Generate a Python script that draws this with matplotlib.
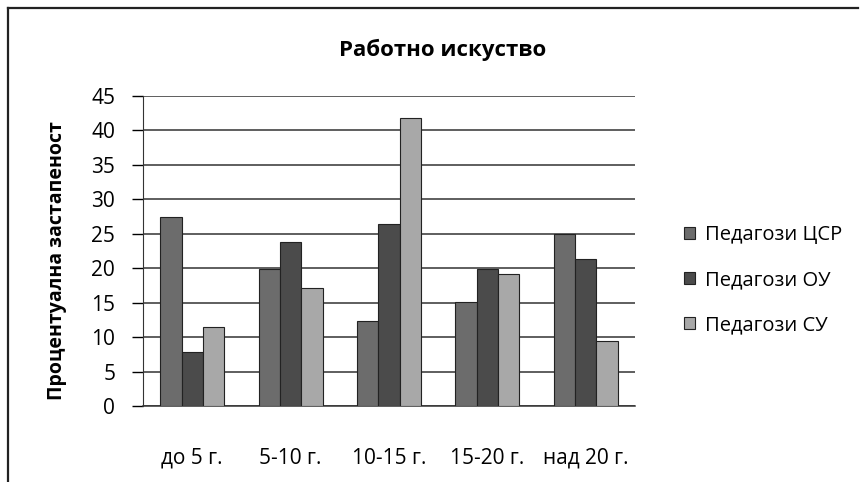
import matplotlib
matplotlib.use("Agg")
import matplotlib.pyplot as plt
import numpy as np
from matplotlib.lines import Line2D

plt.rcParams['font.family'] = ['Open Sans', 'Noto Sans', 'DejaVu Sans']

categories = ["до 5 г.", "5-10 г.", "10-15 г.", "15-20 г.", "над 20 г."]
series_names = ["Педагози ЦСР", "Педагози ОУ", "Педагози СУ"]
cfr = [27.4, 19.9, 12.4, 15.1, 25.0]
ou = [7.8, 23.8, 26.4, 19.9, 21.3]
su = [11.5, 17.1, 41.8, 19.1, 9.4]
colors = ["#6c6c6c", "#4b4b4b", "#a8a8a8"]

fig = plt.figure(figsize=(8.63, 4.82), dpi=100)
ax = fig.add_axes([143/863, 1 - 406/482, 492/863, 310/482])

x = np.arange(len(categories))
w = 0.217
for i, (vals, name) in enumerate(zip([cfr, ou, su], series_names)):
    ax.bar(x + (i - 1) * w, vals, width=w, color=colors[i], edgecolor="#222222",
           linewidth=0.8, label=name, zorder=3)

ax.set_xlim(-0.5, len(categories) - 0.5)
ax.set_ylim(0, 45)
ax.set_yticks(range(0, 46, 5))
ax.set_xticks(x)
ax.set_xticklabels(categories, fontsize=15)
ax.tick_params(axis="y", labelsize=15, direction="out", length=8, width=1, pad=12)
ax.tick_params(axis="x", length=0, pad=30)
ax.yaxis.grid(True, color="#333333", linewidth=1.1, zorder=0)
for s in ["top", "right"]:
    ax.spines[s].set_visible(False)
ax.spines["left"].set_color("#333333")
ax.spines["bottom"].set_color("#333333")
ax.spines["bottom"].set_linewidth(1.1)

ax.set_ylabel("Процентуална застапеност", fontsize=14, fontweight="bold")
ax.yaxis.set_label_coords(-0.155, 0.47)
fig.text(443/863, 1 - 50/482, "Работно искуство", fontsize=16, fontweight="bold",
         ha="center", va="center")

fig.legend(loc="center left", bbox_to_anchor=(666/863, 1 - 280/482), frameon=False,
           fontsize=14.5, handlelength=0.55, handleheight=0.55, handletextpad=0.5,
           labelspacing=1.25)

# chart frame (only left and top edges show in the scan)
fig.add_artist(Line2D([8/863, 8/863], [0, 1 - 8/482], transform=fig.transFigure,
                      color="#222222", linewidth=1.6))
fig.add_artist(Line2D([8/863, 858/863], [1 - 8/482, 1 - 8/482], transform=fig.transFigure,
                      color="#222222", linewidth=1.6))

fig.savefig("out.png", dpi=100)
